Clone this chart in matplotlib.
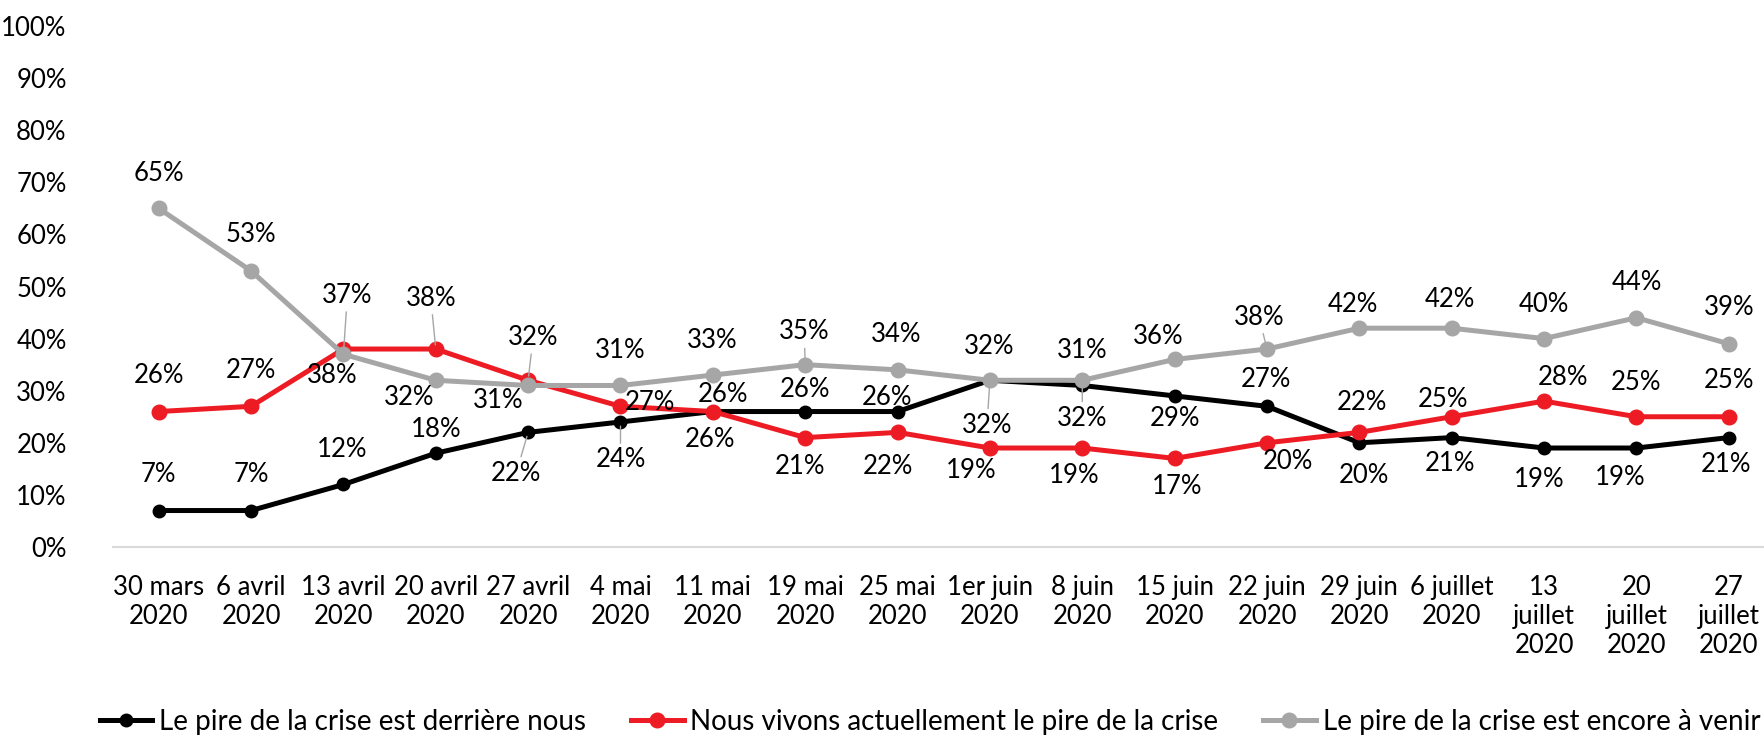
import matplotlib
matplotlib.use("Agg")
import matplotlib.pyplot as plt

# fonts: Calibri-like look
plt.rcParams['font.family'] = ['Lato', 'DejaVu Sans']

# data
dates = ["30 mars\n2020", "6 avril\n2020", "13 avril\n2020", "20 avril\n2020",
         "27 avril\n2020", "4 mai\n2020", "11 mai\n2020", "19 mai\n2020",
         "25 mai\n2020", "1er juin\n2020", "8 juin\n2020", "15 juin\n2020",
         "22 juin\n2020", "29 juin\n2020", "6 juillet\n2020", "13\njuillet\n2020",
         "20\njuillet\n2020", "27\njuillet\n2020"]
derriere = [7, 7, 12, 18, 22, 24, 26, 26, 26, 32, 31, 29, 27, 20, 21, 19, 19, 21]
actuellement = [26, 27, 38, 38, 32, 27, 26, 21, 22, 19, 19, 17, 20, 22, 25, 28, 25, 25]
a_venir = [65, 53, 37, 32, 31, 31, 33, 35, 34, 32, 32, 36, 38, 42, 42, 40, 44, 39]
series_names = ["Le pire de la crise est derrière nous",
                "Nous vivons actuellement le pire de la crise",
                "Le pire de la crise est encore à venir"]

# label placement (dx, dy in pixels, dy downwards) and leader lines
off_black = [(0, -36), (0, -36), (-1, -35), (0, -24), (-12, 41), (0, 38),
             (10, -17), (0, -22), (-11, -14), (-3, 45), (0, -35), (0, 23),
             (-1, -27), (5, 33), (-2, 26), (-5, 31), (-16, 29), (-3, 27)]
off_red = [(0, -36), (0, -36), (-11, 26), (-5, -51), (5, -43), (29, -4),
           (-3, 28), (-5, 29), (-10, 34), (-19, 22), (-8, 27), (2, 28),
           (21, 19), (3, -30), (-9, -17), (19, -24), (0, -34), (0, -36)]
off_gray = [(0, -35), (0, -36), (4, -59), (-27, 17), (-30, 15), (0, -35),
            (-1, -35), (-1, -33), (-1, -35), (-1, -34), (0, 38), (-16, -23),
            (-8, -32), (-6, -24), (-2, -29), (0, -34), (0, -35), (0, -36)]
lead_black = {4, 5, 9}
lead_red = {3, 4}
lead_gray = {2, 7, 10, 12}

fig = plt.figure(figsize=(17.65, 7.36), dpi=100)
ax = fig.add_axes([112.5 / 1765, 1 - 547 / 736, (1775 - 112.5) / 1765, (547 - 26) / 736])

x = list(range(len(dates)))
styles = [
    (derriere, '#000000', 9, off_black, lead_black),
    (actuellement, '#ed1c24', 10.5, off_red, lead_red),
    (a_venir, '#a6a6a6', 10.5, off_gray, lead_gray),
]
for (vals, color, ms, offs, leads), name in zip(styles, series_names):
    ax.plot(x, vals, color=color, lw=3.6, marker='o', markersize=ms, label=name,
            solid_joinstyle='round')
    for i, v in enumerate(vals):
        dx, dy = offs[i]
        kw = {}
        if i in leads:
            kw['arrowprops'] = dict(arrowstyle='-', color='#a6a6a6', lw=1,
                                    shrinkA=1, shrinkB=3)
        ax.annotate(f"{v}%", (i, v), xytext=(dx, -dy), textcoords='offset pixels',
                    ha='center', va='center', fontsize=18.5, color='black',
                    zorder=5, **kw)

ax.set_xlim(-0.5, len(dates) - 0.5)
ax.set_ylim(0, 100)
ax.set_yticks(range(0, 101, 10))
ax.set_yticklabels([f"{t}%" for t in range(0, 101, 10)], fontsize=18.5)
ax.set_xticks(x)
ax.set_xticklabels(dates, fontsize=18.5, linespacing=1.2)
ax.tick_params(axis='both', length=0)
ax.tick_params(axis='y', pad=33)
ax.tick_params(axis='x', pad=20)
for s in ['top', 'right', 'left']:
    ax.spines[s].set_visible(False)
ax.spines['bottom'].set_color('#d9d9d9')
ax.spines['bottom'].set_linewidth(1.5)

fig.legend(loc='center', bbox_to_anchor=(930 / 1765, 1 - 722 / 736), ncol=3,
           frameon=False, fontsize=20, handlelength=1.9, handletextpad=0.25,
           columnspacing=1.6)

plt.savefig("out.png", dpi=100)
